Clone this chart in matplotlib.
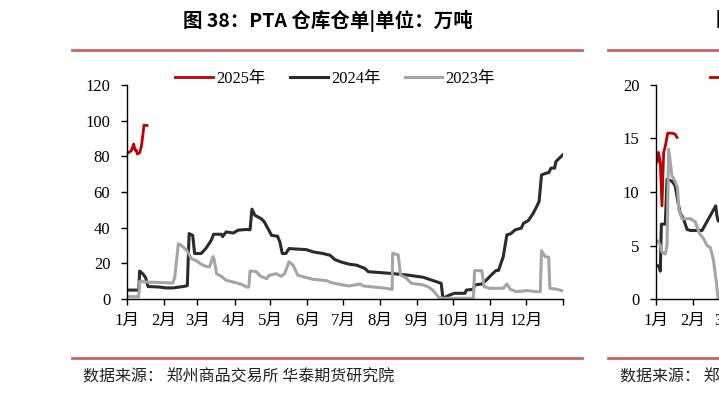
import matplotlib.pyplot as plt
from matplotlib.lines import Line2D

# 日期用一年中的第几天表示
month_days = [0, 31, 59, 90, 120, 151, 181, 212, 243, 273, 304, 334, 365]
month_labels = ['1月', '2月', '3月', '4月', '5月', '6月', '7月', '8月',
                '9月', '10月', '11月', '12月', '']

# 图38 PTA仓库仓单 (万吨)
d25 = [1, 3.6, 5.6, 6.7, 7.8, 8.6, 10.6, 12, 13.4, 14.2, 16.7]
v25 = [82, 83.1, 86.9, 83.5, 83.5, 81.3, 82, 85.4, 92.5, 97.5, 97.3]

d24 = [0, 9.8, 10.6, 13.4, 15.6, 17.6, 27, 33, 38.5, 48, 50.5, 52, 55, 56.6,
       62, 66, 70.6, 72.5, 79, 80, 83, 89, 93, 100, 103, 104.6, 107, 112.4,
       115, 118, 121, 126, 128, 130, 133, 135.6, 142, 150, 156, 164, 170, 174,
       179, 186, 192, 199, 202, 220, 234, 248, 259, 263, 264.5, 270, 274, 283,
       284, 290, 291, 297, 301, 305, 309, 311, 315, 318, 321, 325, 330, 332,
       336, 340, 343, 345, 347, 351, 353, 355, 358, 359, 362, 365]
v24 = [5, 5, 15.7, 14, 12, 7, 6.7, 6.2, 6.2, 7.1, 7.5, 36.7, 35.7, 25.5,
       25.5, 28.3, 33, 36.3, 36.3, 35, 37.6, 37, 38.6, 39, 38.8, 50.4, 47, 45,
       43.2, 39.5, 35.7, 35.2, 32, 25.5, 25.5, 28.3, 28, 27.7, 26.4, 25.5, 24.5,
       22.1, 20.8, 19.5, 19, 17.2, 15.3, 14.4, 13.5, 12.2, 9.7, 8.8, 0.4, 2.2,
       3.2, 3.2, 5, 5.4, 7.9, 8.4, 10.7, 13.5, 16, 16, 23.8, 36, 36.5, 38.8,
       39.7, 42.5, 44, 48, 51.9, 54.7, 69.6, 70.6, 70.8, 73.4, 73.4, 77, 79,
       80.9]

d23 = [1, 9.8, 10.6, 16, 38.5, 40, 43, 45.5, 50, 54, 58, 62, 66, 69, 72, 73,
       75, 79, 83, 89, 96, 100, 102, 103, 108, 112, 117, 119, 125, 129, 132,
       135.6, 139, 143, 149, 156, 167, 171, 178, 186, 195, 198, 217, 222,
       222.4, 227, 229, 234, 238, 248, 252, 256, 261, 265, 290, 291, 297, 299,
       304, 315, 318, 321, 326, 335, 343, 346, 347, 350, 353, 354, 360, 364]
v23 = [1.3, 1.3, 9.9, 9.5, 9, 12.4, 31, 30, 27.3, 22.6, 21.5, 19.5, 18.3, 18,
       23.8, 22, 14.2, 12.7, 10.5, 9.5, 8.2, 6.7, 6.7, 15.7, 15.4, 12.7, 11.4,
       13.3, 14.2, 12.7, 14.2, 20.8, 19, 13.3, 12.2, 11, 10.3, 9.2, 8.2, 7.3,
       8.4, 7.3, 6, 5.4, 25.6, 24.7, 13.5, 11.6, 8.8, 7.9, 6.9, 5, 0.9, 0.4,
       0.4, 15.9, 15.9, 6.9, 6, 6, 8.4, 5.4, 4.1, 4.7, 4.1, 4.1, 27.1, 23.8,
       23.4, 6, 5.4, 4.7]

# 右侧被裁切的下一张图 (只露出开头部分)
r25_d = [1, 2, 3.6, 5, 6.4, 7.8, 9.8, 13.4, 16, 17.6]
r25_v = [12.8, 13.7, 12.8, 8.7, 13.7, 14.3, 15.5, 15.5, 15.4, 15.1]
r24_d = [1, 2.8, 3.6, 4.5, 7.8, 9.2, 13.4, 16, 18, 20, 23, 26, 29, 38.5, 44,
         50, 51, 52, 60]
r24_v = [3.1, 3.1, 2.6, 7, 7, 11.2, 11, 10.6, 9.3, 8.1, 7.5, 6.5, 6.4, 6.4,
         7.5, 8.7, 7.8, 7.3, 7]
r23_d = [1.7, 3.6, 5, 7.8, 9.2, 10.6, 13.4, 16, 18, 19, 21.8, 29, 33, 36, 40,
         42.7, 45.5, 48, 50.5, 52, 60]
r23_v = [5.4, 5, 4.4, 4.2, 5, 14, 11.5, 11, 10.4, 8.4, 7.5, 7.5, 7.2, 6.2,
         5.6, 5, 4.8, 3.7, 1.6, 0, 0]

RED = '#C00000'
BLACK = '#2B2B2B'
GREY = '#A5A5A5'
RULE = '#C86464'

plt.rcParams['font.family'] = ['Liberation Serif', 'Noto Sans CJK SC']

W, H = 719, 393
fig = plt.figure(figsize=(W / 100, H / 100), dpi=100)


def make_axes(left_px, ymax, yticks, xlabels):
    ax = fig.add_axes([left_px / W, (H - 299) / H, 436 / W, 214 / H])
    ax.set_xlim(0, 365)
    ax.set_ylim(0, ymax)
    ax.set_yticks(yticks)
    ax.set_xticks(month_days)
    ax.set_xticklabels(xlabels)
    for s in ['top', 'right']:
        ax.spines[s].set_visible(False)
    for s in ['left', 'bottom']:
        ax.spines[s].set_color('black')
        ax.spines[s].set_linewidth(1.0)
    ax.tick_params(axis='y', direction='out', length=4, width=1, pad=8,
                   labelsize=12)
    ax.tick_params(axis='x', direction='out', length=4, width=1, pad=6,
                   labelsize=12)
    return ax


ax1 = make_axes(127, 120, [0, 20, 40, 60, 80, 100, 120], month_labels)
ax1.plot(d25, v25, color=RED, lw=2.0, label='2025年', clip_on=False)
ax1.plot(d24, v24, color=BLACK, lw=2.2, label='2024年')
ax1.plot(d23, v23, color=GREY, lw=2.2, label='2023年')
ax1.legend(loc='center left', bbox_to_anchor=(48 / 436, 1.03), ncol=3,
           frameon=False, fontsize=11.8, handlelength=2.3, handletextpad=0.2,
           columnspacing=1.5, borderpad=0, borderaxespad=0)

# 右图只露出 1月、2月 和 3月 的一部分
ax2 = make_axes(656, 20, [0, 5, 10, 15, 20],
                month_labels[:3] + [''] * 10)
ax2.plot(r25_d, r25_v, color=RED, lw=2.0)
ax2.plot(r24_d, r24_v, color=BLACK, lw=2.2)
ax2.plot(r23_d, r23_v, color=GREY, lw=2.2)
fig.add_artist(Line2D([710 / W, 719 / W], [1 - 77 / H, 1 - 77 / H],
                      color=RED, lw=2.0))

# 标题、分隔线和数据来源
fig.text(328 / W, 1 - 21 / H, '图 38：PTA 仓库仓单|单位：万吨',
         family='Noto Sans CJK SC', fontweight='bold', fontsize=14,
         ha='center', va='center')
fig.text(716 / W, 1 - 21 / H, '图',
         family='Noto Sans CJK SC', fontweight='bold', fontsize=14,
         ha='left', va='center')
for x0, x1 in [(72, 582), (608, 719)]:
    for y in [50, 358]:
        fig.add_artist(Line2D([x0 / W, x1 / W], [1 - y / H, 1 - y / H],
                              color=RULE, lw=2.0))
fig.text(83 / W, 1 - 377 / H, '数据来源： 郑州商品交易所 华泰期货研究院',
         family='Noto Sans CJK SC', fontsize=11.5, color='#222222',
         ha='left', va='center')
fig.text(620 / W, 1 - 377 / H, '数据来源： 郑州',
         family='Noto Sans CJK SC', fontsize=11.5, color='#222222',
         ha='left', va='center')

fig.savefig('out.png', dpi=100)
